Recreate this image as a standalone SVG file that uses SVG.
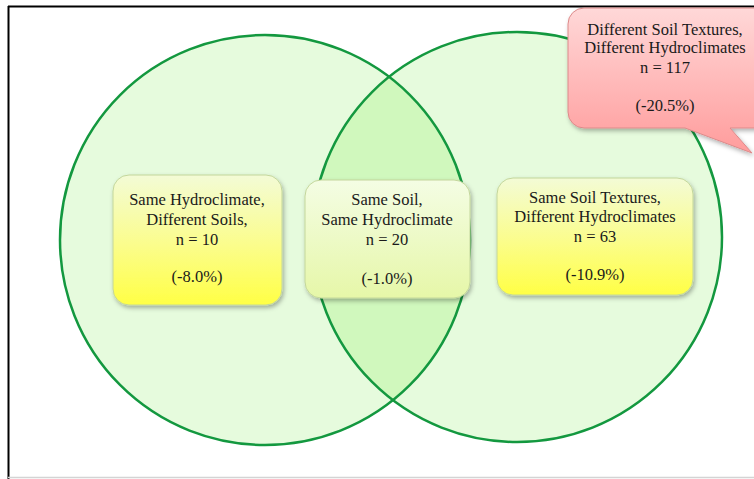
<svg xmlns="http://www.w3.org/2000/svg" width="754" height="479" viewBox="0 0 754 479">
  <style>
    .lbl { font-family: "Liberation Serif", "Times New Roman", serif; font-size: 16.5px; fill: #1a1a1a; text-anchor: middle; }
    .circle { stroke: #13983f; stroke-width: 2.5; fill: none; }
    .box { stroke: #c3d69b; stroke-width: 1; filter: url(#shadow); }
  </style>
  <defs>
    <linearGradient id="gYellow" x1="0" y1="0" x2="0" y2="1">
      <stop offset="0" stop-color="#f3fbd6"/>
      <stop offset="0.55" stop-color="#fbfd8a"/>
      <stop offset="1" stop-color="#ffff45"/>
    </linearGradient>
    <linearGradient id="gMid" x1="0" y1="0" x2="0" y2="1">
      <stop offset="0" stop-color="#f4fde4"/>
      <stop offset="1" stop-color="#e6f7a8"/>
    </linearGradient>
    <linearGradient id="gPink" x1="0" y1="0" x2="0" y2="1">
      <stop offset="0" stop-color="#ffd8d8"/>
      <stop offset="1" stop-color="#ff9c9c"/>
    </linearGradient>
    <filter id="shadow" x="-10%" y="-10%" width="125%" height="130%">
      <feDropShadow dx="1.5" dy="2.5" stdDeviation="2" flood-color="#000" flood-opacity="0.3"/>
    </filter>
    <clipPath id="clipLeft">
      <circle cx="265" cy="240" r="205"/>
    </clipPath>
  </defs>

  <!-- page frame -->
  <g id="frame">
    <line x1="8" y1="6.5" x2="754" y2="6.5" stroke="#000" stroke-width="2"/>
    <line x1="8.5" y1="6" x2="8.5" y2="479" stroke="#000" stroke-width="2"/>
    <line x1="8" y1="477.5" x2="754" y2="477.5" stroke="#d4d4d4" stroke-width="1.5"/>
  </g>

  <!-- Venn sets -->
  <g id="venn">
    <circle cx="265" cy="240" r="205" fill="#e6fbdd"/>
    <circle cx="517" cy="237" r="205" fill="#e6fbdd"/>
    <circle cx="517" cy="237" r="205" fill="#d0f8bd" clip-path="url(#clipLeft)"/>
    <circle class="circle" cx="265" cy="240" r="205"/>
    <circle class="circle" cx="517" cy="237" r="205"/>
  </g>

  <!-- set labels -->
  <g id="node-left">
    <rect class="box" x="113" y="175" width="169" height="130" rx="16" fill="url(#gYellow)"/>
    <text class="lbl" x="197" y="205">Same Hydroclimate,</text>
    <text class="lbl" x="197" y="225">Different Soils,</text>
    <text class="lbl" x="197" y="245">n = 10</text>
    <text class="lbl" x="197" y="282">(-8.0%)</text>
  </g>

  <g id="node-middle">
    <rect class="box" x="305" y="180" width="165" height="118" rx="16" fill="url(#gMid)"/>
    <text class="lbl" x="387" y="205">Same Soil,</text>
    <text class="lbl" x="387" y="225">Same Hydroclimate</text>
    <text class="lbl" x="387" y="245">n = 20</text>
    <text class="lbl" x="387" y="284">(-1.0%)</text>
  </g>

  <g id="node-right">
    <rect class="box" x="497" y="178" width="196" height="117" rx="16" fill="url(#gYellow)"/>
    <text class="lbl" x="595" y="203">Same Soil Textures,</text>
    <text class="lbl" x="595" y="222">Different Hydroclimates</text>
    <text class="lbl" x="595" y="242">n = 63</text>
    <text class="lbl" x="595" y="280">(-10.9%)</text>
  </g>

  <!-- callout for the outer region -->
  <g id="node-outside">
    <path d="M584,8 H772 V128 H730 L752,153 L685,128 H584 A16,16 0 0 1 568,112 V24 A16,16 0 0 1 584,8 Z"
          fill="url(#gPink)" stroke="#dc8a8a" stroke-width="1" filter="url(#shadow)"/>
    <text class="lbl" x="665" y="35">Different Soil Textures,</text>
    <text class="lbl" x="665" y="53">Different Hydroclimates</text>
    <text class="lbl" x="665" y="73">n = 117</text>
    <text class="lbl" x="665" y="111">(-20.5%)</text>
  </g>
</svg>
